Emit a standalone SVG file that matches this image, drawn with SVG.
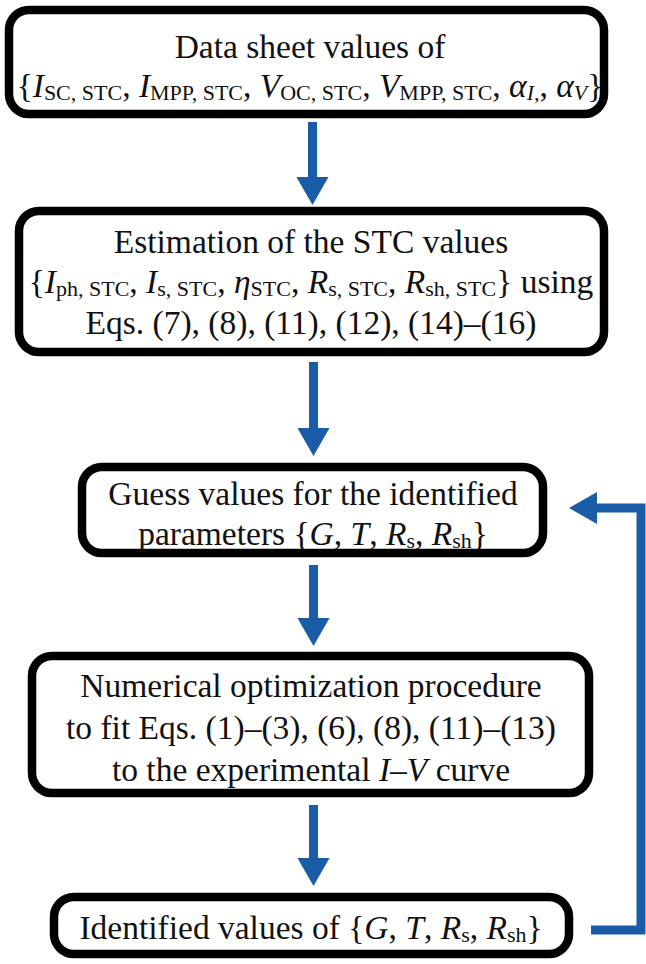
<svg xmlns="http://www.w3.org/2000/svg" width="646" height="964" viewBox="0 0 646 964">
<style>
.box{fill:#fff;stroke:#000;stroke-width:8.5}
.t{font-family:"Liberation Serif","Times New Roman",serif;font-size:33.5px;fill:#111;text-anchor:middle}
.i{font-style:italic}
.s{font-size:22px}
.c{fill:none;stroke:#1b5ca8;stroke-width:9}
</style>
<defs>
<marker id="ah" viewBox="0 0 28 32" refX="0" refY="16" markerWidth="28" markerHeight="32" markerUnits="userSpaceOnUse" orient="auto">
<path d="M0,0 L28,16 L0,32 Z" fill="#1b5ca8"/>
</marker>
</defs>
<g id="connectors">
<line class="c" x1="312.5" y1="122" x2="312.5" y2="177" marker-end="url(#ah)"/>
<line class="c" x1="313.5" y1="362" x2="313.5" y2="428" marker-end="url(#ah)"/>
<line class="c" x1="313.5" y1="565" x2="313.5" y2="618" marker-end="url(#ah)"/>
<line class="c" x1="313.5" y1="805" x2="313.5" y2="858" marker-end="url(#ah)"/>
<path class="c" d="M591,930 H641 V508 H597" marker-end="url(#ah)"/>
</g>
<g id="n1">
<rect class="box" x="9" y="10" width="595" height="104" rx="20"/>
<text class="t" x="310" y="58">Data sheet values of</text>
<text class="t" x="310" y="97">{<tspan class="i">I</tspan><tspan class="s" dy="3">SC, STC</tspan><tspan dy="-3">, </tspan><tspan class="i">I</tspan><tspan class="s" dy="3">MPP, STC</tspan><tspan dy="-3">, </tspan><tspan class="i">V</tspan><tspan class="s" dy="3">OC, STC</tspan><tspan dy="-3">, </tspan><tspan class="i">V</tspan><tspan class="s" dy="3">MPP, STC</tspan><tspan dy="-3">, </tspan><tspan class="i">α</tspan><tspan class="s i" dy="3">I,</tspan><tspan dy="-3">, </tspan><tspan class="i">α</tspan><tspan class="s i" dy="3">V</tspan><tspan dy="-3">}</tspan></text>
</g>
<g id="n2">
<rect class="box" x="19" y="211" width="585" height="141" rx="20"/>
<text class="t" x="311" y="253">Estimation of the STC values</text>
<text class="t" x="311" y="293">{<tspan class="i">I</tspan><tspan class="s" dy="3">ph, STC</tspan><tspan dy="-3">, </tspan><tspan class="i">I</tspan><tspan class="s" dy="3">s, STC</tspan><tspan dy="-3">, </tspan><tspan class="i">η</tspan><tspan class="s" dy="3">STC</tspan><tspan dy="-3">, </tspan><tspan class="i">R</tspan><tspan class="s" dy="3">s, STC</tspan><tspan dy="-3">, </tspan><tspan class="i">R</tspan><tspan class="s" dy="3">sh, STC</tspan><tspan dy="-3">} using</tspan></text>
<text class="t" x="311" y="334">Eqs. (7), (8), (11), (12), (14)–(16)</text>
</g>
<g id="n3">
<rect class="box" x="82" y="467" width="461" height="86" rx="20"/>
<text class="t" x="313" y="505">Guess values for the identified</text>
<text class="t" x="313" y="545">parameters {<tspan class="i">G</tspan>, <tspan class="i">T</tspan>, <tspan class="i">R</tspan><tspan class="s" dy="3">s</tspan><tspan dy="-3">, </tspan><tspan class="i">R</tspan><tspan class="s" dy="3">sh</tspan><tspan dy="-3">}</tspan></text>
</g>
<g id="n4">
<rect class="box" x="32" y="656" width="557" height="137" rx="20"/>
<text class="t" x="311" y="697">Numerical optimization procedure</text>
<text class="t" x="311" y="739">to fit Eqs. (1)–(3), (6), (8), (11)–(13)</text>
<text class="t" x="311" y="781">to the experimental <tspan class="i">I</tspan>–<tspan class="i">V</tspan> curve</text>
</g>
<g id="n5">
<rect class="box" x="54" y="897" width="515" height="57" rx="20"/>
<text class="t" x="311" y="939">Identified values of {<tspan class="i">G</tspan>, <tspan class="i">T</tspan>, <tspan class="i">R</tspan><tspan class="s" dy="3">s</tspan><tspan dy="-3">, </tspan><tspan class="i">R</tspan><tspan class="s" dy="3">sh</tspan><tspan dy="-3">}</tspan></text>
</g>
</svg>
